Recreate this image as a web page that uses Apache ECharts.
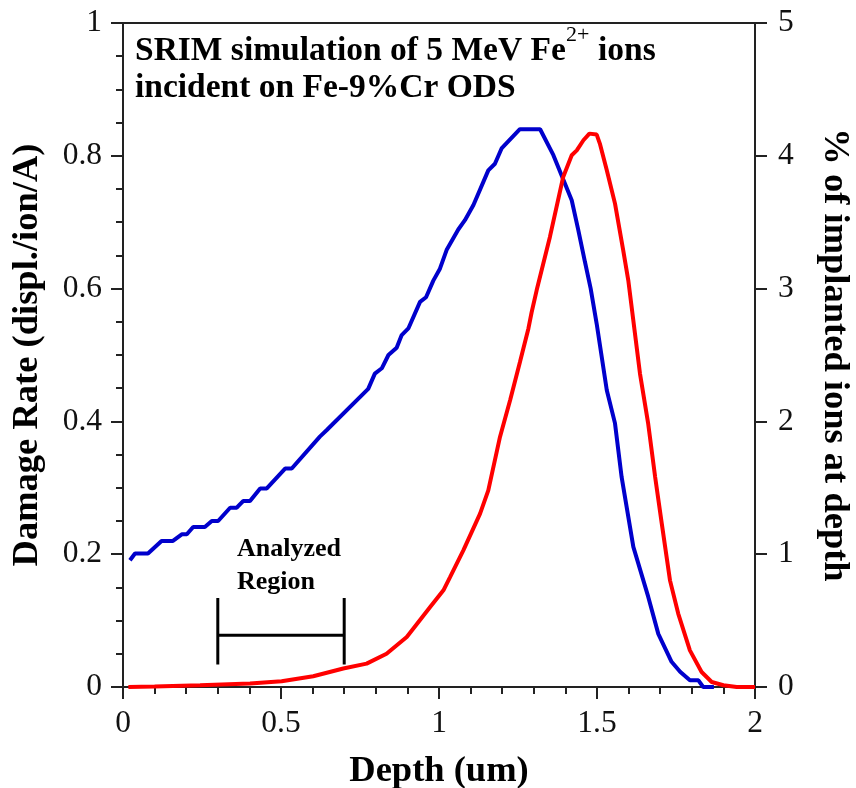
<!DOCTYPE html>
<html>
<head>
<meta charset="utf-8">
<script src="https://cdn.jsdelivr.net/npm/echarts@6/dist/echarts.min.js"></script>
<style>
html,body{margin:0;padding:0;background:#fff;}
#c{width:856px;height:788px;}
</style>
</head>
<body>
<div id="c"></div>
<script>
// Damage rate (left axis)
const damageDepth = [0.022,0.038,0.079,0.122,0.158,0.186,0.202,0.222,0.259,0.281,0.301,0.339,0.360,0.380,0.402,0.434,0.455,0.513,0.534,0.623,0.645,0.776,0.797,0.819,0.840,0.866,0.882,0.903,0.940,0.959,0.982,1.003,1.024,1.061,1.082,1.109,1.156,1.177,1.198,1.256,1.320,1.362,1.420,1.440,1.462,1.480,1.499,1.531,1.557,1.578,1.615,1.662,1.694,1.736,1.763,1.794,1.821,1.836,1.870];
const damageRate  = [0.191,0.201,0.201,0.220,0.220,0.230,0.230,0.241,0.241,0.250,0.250,0.270,0.270,0.280,0.280,0.299,0.299,0.329,0.329,0.377,0.387,0.449,0.472,0.480,0.500,0.511,0.530,0.540,0.580,0.587,0.612,0.630,0.658,0.689,0.703,0.726,0.778,0.788,0.811,0.840,0.840,0.801,0.733,0.690,0.640,0.600,0.547,0.447,0.397,0.316,0.211,0.136,0.080,0.038,0.023,0.010,0.010,0.000,0.000];
// Implanted ions (right axis)
const ionDepth = [0.017,0.100,0.244,0.402,0.502,0.602,0.697,0.771,0.834,0.898,0.972,1.014,1.035,1.077,1.130,1.156,1.193,1.225,1.256,1.283,1.293,1.309,1.351,1.393,1.420,1.436,1.457,1.476,1.499,1.509,1.531,1.557,1.583,1.599,1.636,1.662,1.684,1.705,1.731,1.757,1.794,1.831,1.863,1.900,1.942,2.000];
const ionPercent = [0.000,0.003,0.013,0.026,0.043,0.081,0.139,0.176,0.251,0.377,0.602,0.728,0.828,1.029,1.306,1.481,1.883,2.159,2.445,2.700,2.820,2.987,3.389,3.840,4.004,4.041,4.117,4.167,4.160,4.092,3.891,3.640,3.288,3.062,2.360,1.983,1.581,1.230,0.803,0.553,0.276,0.113,0.038,0.013,0.000,0.000];
// Analyzed region bracket
const regionX = [0.3, 0.7];
const regionY = [0.034, 0.078, 0.134];
// Tick labels
const xTickLabels = ['0','0.5','1','1.5','2'];
const leftTickLabels = ['0','0.2','0.4','0.6','0.8','1'];
const rightTickLabels = ['0','1','2','3','4','5'];

const FF = "'Liberation Serif','Times New Roman',serif";
const axisLine = {show:true, onZero:false, lineStyle:{color:'#222', width:2}};
const tickStyle = {color:'#222', width:2};
const nameStyle = {fontSize:36.5, fontWeight:'bold', fontFamily:FF, color:'#000'};
const titleStyle = {fontFamily:FF, fontSize:33.5, fontWeight:'bold', fill:'#000', lineHeight:37};

const bracket = [
  [regionX[0], regionY[2]], [regionX[0], regionY[0]], '-',
  [regionX[0], regionY[1]], [regionX[1], regionY[1]], '-',
  [regionX[1], regionY[2]], [regionX[1], regionY[0]]
];

const chart = echarts.init(document.getElementById('c'));
chart.setOption({
  animation:false,
  backgroundColor:'#fff',
  grid:{left:123, right:101, top:23, bottom:101, containLabel:false, outerBoundsMode:'none'},
  xAxis:[
    {type:'value', min:0, max:2, interval:0.5, position:'bottom',
     axisLine:axisLine,
     axisTick:{show:true, inside:false, length:12, lineStyle:tickStyle},
     minorTick:{show:true, splitNumber:5, length:7, lineStyle:tickStyle},
     splitLine:{show:false}, minorSplitLine:{show:false},
     axisLabel:{fontSize:31.5, fontFamily:FF, color:'#111', margin:21,
       formatter:(v)=>xTickLabels[Math.round(v/0.5)]},
     name:'Depth (um)', nameLocation:'middle', nameGap:66, nameTextStyle:nameStyle},
    {type:'value', min:0, max:2, position:'top',
     axisLine:axisLine, axisTick:{show:false}, axisLabel:{show:false}, splitLine:{show:false}}
  ],
  yAxis:[
    {type:'value', min:0, max:1, interval:0.2, position:'left',
     axisLine:axisLine,
     axisTick:{show:true, inside:false, length:12, lineStyle:tickStyle},
     minorTick:{show:true, splitNumber:4, length:7, lineStyle:tickStyle},
     splitLine:{show:false}, minorSplitLine:{show:false},
     axisLabel:{fontSize:31.5, fontFamily:FF, color:'#111', margin:21,
       formatter:(v)=>leftTickLabels[Math.round(v/0.2)]},
     name:'Damage Rate (displ./ion/A)', nameLocation:'middle', nameRotate:90, nameGap:77,
     nameTextStyle:nameStyle},
    {type:'value', min:0, max:5, interval:1, position:'right',
     axisLine:axisLine,
     axisTick:{show:true, inside:false, length:12, lineStyle:tickStyle},
     splitLine:{show:false},
     axisLabel:{fontSize:31.5, fontFamily:FF, color:'#111', margin:23,
       formatter:(v)=>rightTickLabels[Math.round(v)]},
     name:'% of implanted ions at depth', nameLocation:'middle', nameRotate:-90, nameGap:61,
     nameTextStyle:nameStyle}
  ],
  series:[
    {type:'line', xAxisIndex:0, yAxisIndex:0, showSymbol:false, symbol:'none',
     data:damageDepth.map((x,i)=>[x, damageRate[i]]),
     lineStyle:{color:'#0000cc', width:4}, z:3},
    {type:'line', xAxisIndex:0, yAxisIndex:1, showSymbol:false, symbol:'none',
     data:ionDepth.map((x,i)=>[x, ionPercent[i]]),
     lineStyle:{color:'#ff0000', width:4}, z:4},
    {type:'line', xAxisIndex:0, yAxisIndex:0, showSymbol:false, symbol:'none', connectNulls:false,
     data:bracket, lineStyle:{color:'#000', width:3}, z:5}
  ],
  graphic:[
    {type:'text', left:135, top:33, z:10,
     style:Object.assign({text:'SRIM simulation of 5 MeV Fe'}, titleStyle)},
    {type:'text', left:566, top:24, z:10,
     style:{text:'2+', fontFamily:FF, fontSize:22, fill:'#000', lineHeight:22}},
    {type:'text', left:598, top:33, z:10,
     style:Object.assign({text:'ions'}, titleStyle)},
    {type:'text', left:135, top:70, z:10,
     style:Object.assign({text:'incident on Fe-9%Cr ODS'}, titleStyle)},
    {type:'text', left:237, top:533, z:10,
     style:{text:'Analyzed\nRegion', fontFamily:FF, fontSize:26, fontWeight:'bold', fill:'#000', lineHeight:33}}
  ]
});
</script>
</body>
</html>
